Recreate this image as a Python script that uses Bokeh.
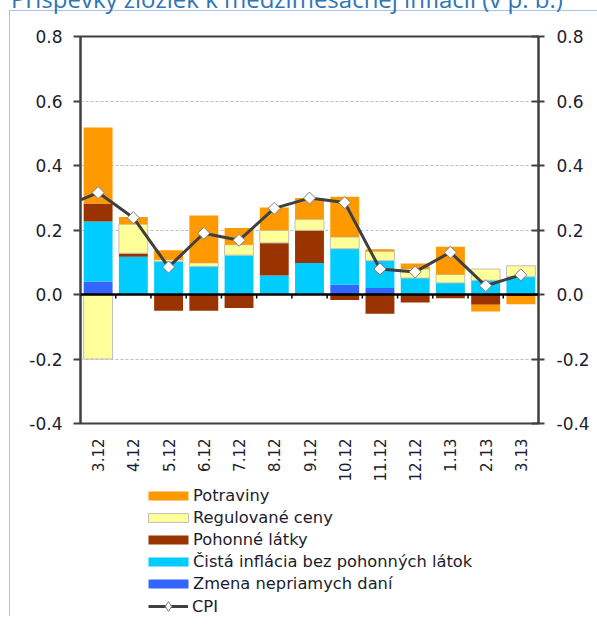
from bokeh.plotting import figure
from bokeh.models import (ColumnDataSource, Range1d, FixedTicker, LinearAxis, Span,
                          Legend, LegendItem, Div)
from bokeh.layouts import column
from bokeh.embed import file_html
from bokeh.resources import INLINE
import math

# ---------------- data ----------------
categories = ["3.12", "4.12", "5.12", "6.12", "7.12", "8.12", "9.12",
              "10.12", "11.12", "12.12", "1.13", "2.13", "3.13"]

zmena_dani = [0.040, 0.0, 0.0, 0.0, 0.0, 0.0, 0.0, 0.030, 0.020, 0.0, 0.0, 0.0, 0.0]
cista_inflacia = [0.186, 0.117, 0.103, 0.087, 0.122, 0.059, 0.098, 0.112, 0.085,
                  0.051, 0.036, 0.044, 0.055]
pohonne_latky = [0.056, 0.011, -0.050, -0.050, -0.042, 0.101, 0.101, -0.017, -0.060,
                 -0.025, -0.012, -0.032, -0.005]
regulovane_ceny = [-0.200, 0.090, 0.005, 0.011, 0.032, 0.039, 0.034, 0.036, 0.029,
                   0.028, 0.026, 0.035, 0.034]
potraviny = [0.236, 0.022, 0.029, 0.147, 0.052, 0.071, 0.066, 0.125, 0.006,
             0.017, 0.086, -0.021, -0.025]

cpi_prev = 0.270          # 2.12 (only the segment leading into 3.12 is visible)
cpi = [0.316, 0.238, 0.085, 0.190, 0.168, 0.267, 0.299, 0.285, 0.079,
       0.070, 0.131, 0.027, 0.061]

y_ticks = [-0.4, -0.2, 0.0, 0.2, 0.4, 0.6, 0.8]

TITLE = "Príspevky zložiek k medzimesačnej inflácii (v p. b.)"

series = [
    ("Zmena nepriamych daní", zmena_dani, "#3366FF", None),
    ("Čistá inflácia bez pohonných látok", cista_inflacia, "#00CCFF", None),
    ("Pohonné látky", pohonne_latky, "#993300", None),
    ("Regulované ceny", regulovane_ceny, "#FFFF99", "#BFBFBF"),
    ("Potraviny", potraviny, "#FF9900", None),
]
legend_order = ["Potraviny", "Regulované ceny", "Pohonné látky",
                "Čistá inflácia bez pohonných látok", "Zmena nepriamych daní"]

# ---------------- styles ----------------
FONT = "DejaVu Sans"
TXT = "#1c1c2c"
BORDER = "1px solid #A9C4EB"
LINE_C = "#404040"
x_idx = list(range(len(categories)))

# ---------------- main chart ----------------
p = figure(width=588, height=476, output_backend="svg", toolbar_location=None,
           x_range=Range1d(-0.5, len(categories) - 0.5), y_range=Range1d(-0.4, 0.8),
           min_border_left=70, min_border_right=60, min_border_top=25, min_border_bottom=64,
           y_axis_location=None, x_axis_location=None,
           styles={"margin-left": "9px", "border-left": BORDER, "border-top": BORDER})
p.background_fill_color = "white"
p.border_fill_color = "white"
p.outline_line_color = LINE_C
p.outline_line_width = 2
p.xgrid.visible = False
p.ygrid.ticker = FixedTicker(ticks=y_ticks)
p.ygrid.grid_line_color = "#BFBFBF"
p.ygrid.grid_line_dash = "3 2"
p.ygrid.grid_line_width = 1

y_labels = {t: f"{t:.1f}" for t in y_ticks}

def y_axis(side):
    ax = LinearAxis(ticker=FixedTicker(ticks=y_ticks), major_label_overrides=y_labels)
    ax.axis_line_color = LINE_C
    ax.axis_line_width = 2
    ax.major_tick_line_color = LINE_C
    ax.major_tick_line_width = 2
    ax.minor_tick_line_color = None
    ax.major_label_text_font = FONT
    ax.major_label_text_font_size = "17px"
    ax.major_label_text_color = TXT
    if side == "left":
        ax.major_tick_out = 7
        ax.major_tick_in = 0
        ax.major_label_standoff = 11
    else:
        ax.major_tick_out = 6
        ax.major_tick_in = 7
        ax.major_label_standoff = 12
    p.add_layout(ax, side)

y_axis("left")
y_axis("right")

xax = LinearAxis(ticker=FixedTicker(ticks=x_idx),
                 major_label_overrides={i: c for i, c in zip(x_idx, categories)})
xax.axis_line_color = None
xax.major_tick_line_color = None
xax.minor_tick_line_color = None
xax.major_label_orientation = math.pi / 2
xax.major_label_text_font = FONT
xax.major_label_text_font_size = "15px"
xax.major_label_text_color = TXT
xax.major_label_standoff = 9
p.add_layout(xax, "below")

# stacked bars (positive parts stack upward, negative parts downward)
pos_base = [0.0] * len(categories)
neg_base = [0.0] * len(categories)
sources = {}
for name, vals, color, lcolor in series:
    bottoms, tops = [], []
    for i, v in enumerate(vals):
        if v >= 0:
            bottoms.append(pos_base[i]); tops.append(pos_base[i] + v); pos_base[i] += v
        else:
            bottoms.append(neg_base[i] + v); tops.append(neg_base[i]); neg_base[i] += v
    src = ColumnDataSource(dict(x=x_idx, bottom=bottoms, top=tops))
    sources[name] = src
    p.vbar(x="x", bottom="bottom", top="top", width=0.82, source=src,
           fill_color=color, line_color=lcolor, line_width=1)

# zero line with category tick marks
p.add_layout(Span(location=0, dimension="width", line_color="black", line_width=2.5))
px_per_unit = 386 / 1.2
bounds = [i - 0.5 for i in range(len(categories) + 1)]
p.segment(x0=bounds, x1=bounds, y0=[0] * len(bounds), y1=[-4 / px_per_unit] * len(bounds),
          line_color="black", line_width=1.5)

# CPI line
cpi_src = ColumnDataSource(dict(x=[-1] + x_idx, y=[cpi_prev] + cpi))
pts_src = ColumnDataSource(dict(x=x_idx, y=cpi))
p.line("x", "y", source=cpi_src, line_color=LINE_C, line_width=3)
p.scatter("x", "y", source=pts_src, marker="square", angle=math.pi / 4, size=8.5,
          fill_color="white", line_color="#7F7F7F", line_width=1)

# ---------------- legend panel (same series, view range kept off the data) ----------------
pl = figure(width=588, height=130, output_backend="svg", toolbar_location=None,
            x_range=Range1d(100, 101), y_range=Range1d(100, 101),
            min_border_left=0, min_border_right=0, min_border_top=0, min_border_bottom=0,
            x_axis_location=None, y_axis_location=None,
            styles={"margin-left": "9px", "border-left": BORDER})
pl.outline_line_color = None
pl.grid.visible = False
pl.background_fill_color = "white"
pl.border_fill_color = "white"

style_of = {n: (c, lc) for n, _, c, lc in series}
items = []
for n in legend_order:
    c, lc = style_of[n]
    r = pl.vbar(x="x", bottom="bottom", top="top", width=0.82, source=sources[n],
                fill_color=c, line_color=lc, line_width=1)
    items.append(LegendItem(label=n, renderers=[r]))
lr = pl.line("x", "y", source=cpi_src, line_color=LINE_C, line_width=3)
sr = pl.scatter("x", "y", source=pts_src, marker="diamond", size=10,
                fill_color="white", line_color="#7F7F7F", line_width=1)

common = dict(orientation="vertical", label_height=18, spacing=3, padding=0, margin=0,
              label_text_font=FONT, label_text_font_size="16.3px", label_text_color=TXT,
              border_line_color=None, background_fill_alpha=0)
legend_bars = Legend(items=items, location=(63, 23), glyph_width=50, glyph_height=11,
                     label_standoff=0, **common)
legend_cpi = Legend(items=[LegendItem(label="CPI", renderers=[lr, sr])], location=(68, -2),
                    glyph_width=40, glyph_height=24, label_standoff=4, **common)
pl.add_layout(legend_bars, "center")
pl.add_layout(legend_cpi, "center")

# ---------------- title (cut by the top edge, as in the source) ----------------
title = Div(text=TITLE, width=588, height=0,
            styles={"position": "relative", "top": "-23px", "left": "6px",
                    "color": "#2E75B6", "font-size": "24px", "font-family": "Open Sans",
                    "white-space": "nowrap", "overflow": "visible", "z-index": "5"})

root = column(title, p, pl, spacing=0)
open("out.html", "w").write(file_html(root, INLINE))
